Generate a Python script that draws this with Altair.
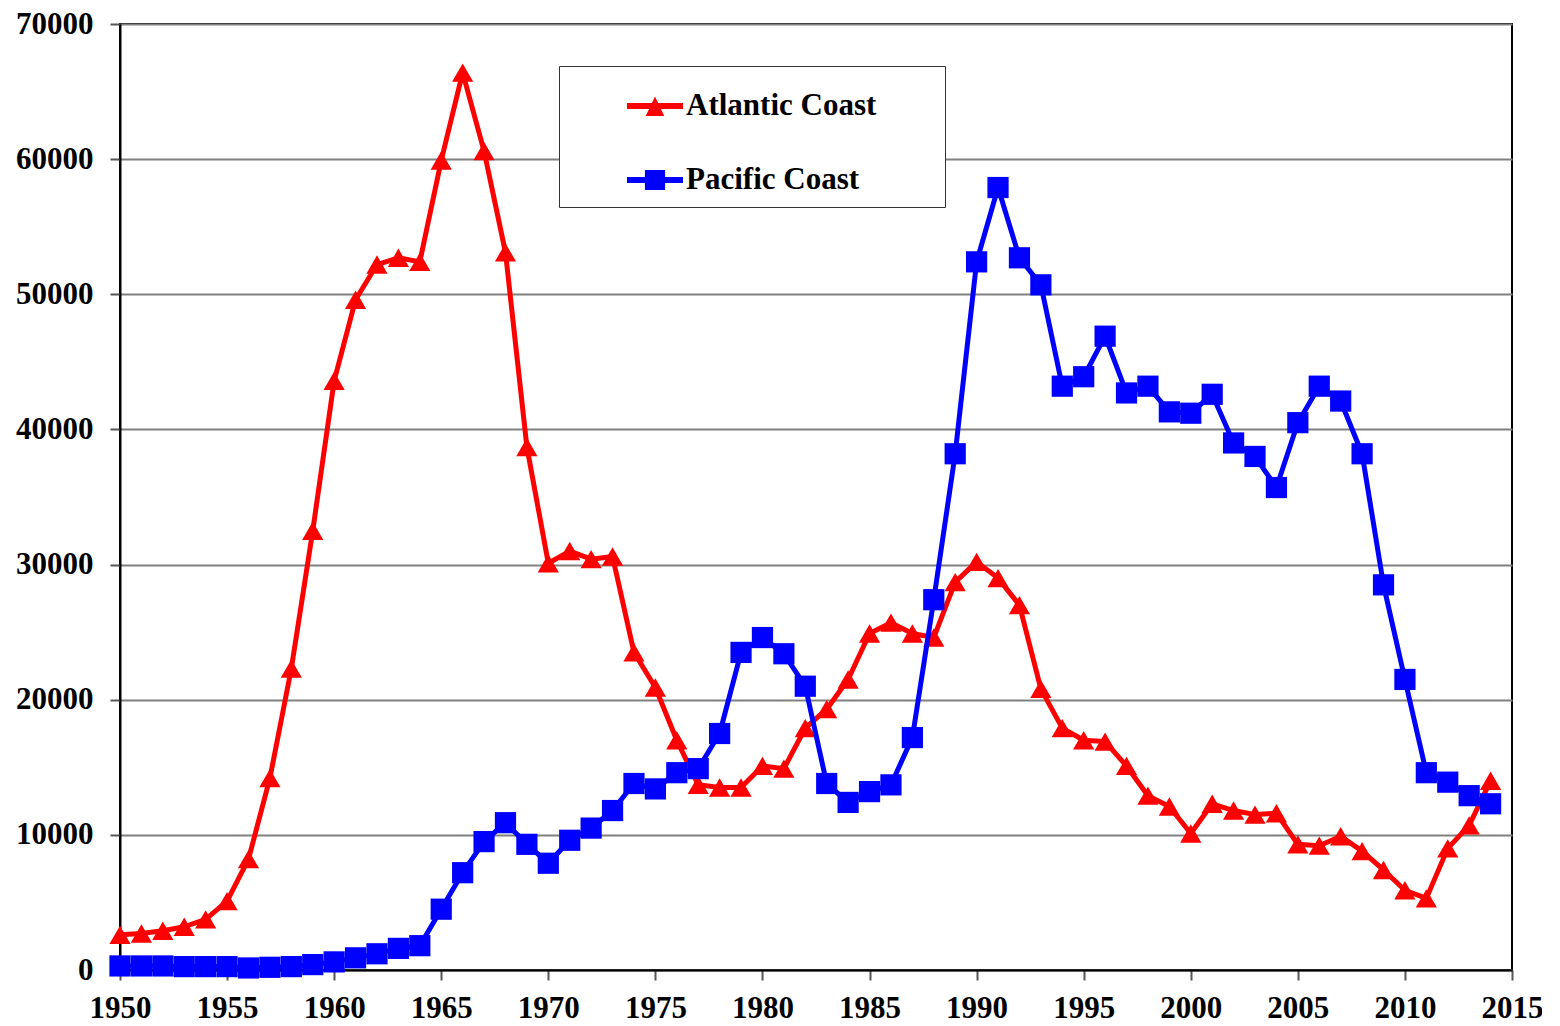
import altair as alt
import pandas as pd

years = list(range(1950, 2015))

atlantic = [2600, 2700, 2900, 3200, 3750, 5100, 8200, 14200, 22300, 32500,
            43600, 49600, 52200, 52700, 52400, 59900, 66400, 60600, 53100, 38700,
            30100, 31000, 30400, 30600, 23500, 20900, 17000, 13700, 13500, 13500,
            15100, 14900, 17900, 19300, 21500, 24900, 25700, 24900, 24600, 28700,
            30200, 29000, 27000, 20800, 17900, 17000, 16900, 15100, 12900, 12100,
            10100, 12300, 11800, 11500, 11600, 9300, 9200, 9900, 8800, 7400,
            5900, 5300, 9000, 10700, 14000]

pacific = [300, 300, 300, 250, 250, 250, 150, 200, 250, 400,
           600, 900, 1200, 1600, 1800, 4500, 7200, 9500, 10900, 9300,
           7900, 9600, 10500, 11800, 13800, 13400, 14600, 14900, 17500, 23500,
           24600, 23400, 21000, 13800, 12400, 13200, 13700, 17200, 27400, 38200,
           52400, 57900, 52700, 50700, 43200, 43900, 46900, 42700, 43200, 41300,
           41200, 42600, 39000, 38000, 35700, 40500, 43200, 42100, 38200, 28500,
           21500, 14600, 13900, 12900, 12300]

series_names = ["Atlantic Coast", "Pacific Coast"]
series_colors = ["#ff0000", "#0000ff"]
series_shapes = ["triangle-up", "square"]
x_ticks = list(range(1950, 2016, 5))
y_ticks = list(range(0, 70001, 10000))

df = pd.DataFrame({
    "year": years * 2,
    "value": atlantic + pacific,
    "series": [series_names[0]] * len(years) + [series_names[1]] * len(years),
})

FONT = "'Liberation Serif', 'Times New Roman', 'DejaVu Serif', serif"

# legend symbols: line segment + marker
PATH_A = "M-1,-0.11L1,-0.11L1,0.11L-1,0.11Z M0,-0.34L0.33,0.36L-0.33,0.36Z"
PATH_P = "M-1,-0.11L1,-0.11L1,0.11L-1,0.11Z M-0.36,-0.36L0.36,-0.36L0.36,0.36L-0.36,0.36Z"

axis_style = dict(
    labelFont=FONT, labelFontSize=31, labelFontWeight="bold", labelColor="black",
    domainColor="black", domainWidth=2, tickColor="#555555", tickWidth=2,
    gridColor="#808080", gridWidth=2, labelFlush=False, labelOverlap=False,
    tickSize=10, title=None, format="d",
)

x_enc = alt.X("year:Q", scale=alt.Scale(domain=[1950, 2015], nice=False, zero=False),
              axis=alt.Axis(values=x_ticks, grid=False, labelPadding=13, **axis_style))
y_enc = alt.Y("value:Q", scale=alt.Scale(domain=[0, 70000], nice=False),
              axis=alt.Axis(values=y_ticks, grid=True, labelPadding=17, **axis_style))

legend = alt.Legend(
    orient="none", legendX=439, legendY=42, title=None, direction="vertical",
    strokeColor="#333333", fillColor="white", padding=12, rowPadding=31,
    symbolSize=3136, symbolOffset=56, labelOffset=3, symbolStrokeWidth=0,
    symbolOpacity=1, labelLimit=600,
    labelFont=FONT, labelFontSize=31, labelFontWeight="bold", labelColor="black",
    labelExpr="datum.label + '\u00a0\u2800\u2800'",
)

base = alt.Chart(df).encode(x=x_enc, y=y_enc)

layers = []
for name, col, shp in zip(series_names, series_colors, series_shapes):
    sub = base.transform_filter(alt.datum.series == name)
    layers.append(sub.mark_line(strokeWidth=5, strokeJoin="round", color=col))
    layers.append(sub.mark_point(filled=True, size=450, opacity=1, color=col, shape=shp))

legend_layer = base.transform_filter("false").mark_point(filled=True, opacity=1).encode(
    color=alt.Color("series:N", scale=alt.Scale(domain=series_names, range=series_colors),
                    legend=legend),
    shape=alt.Shape("series:N", scale=alt.Scale(domain=series_names, range=[PATH_A, PATH_P]),
                    legend=legend),
)
layers.append(legend_layer)

chart = alt.layer(*layers).properties(
    width=1392, height=946,
    background="white",
    autosize=alt.AutoSizeParams(type="none"),
    padding={"left": 112, "top": 16, "right": 30, "bottom": 56},
).configure_view(
    stroke="black", strokeWidth=2
)

chart.save("out.html", embed_options={"renderer": "svg", "actions": False})
